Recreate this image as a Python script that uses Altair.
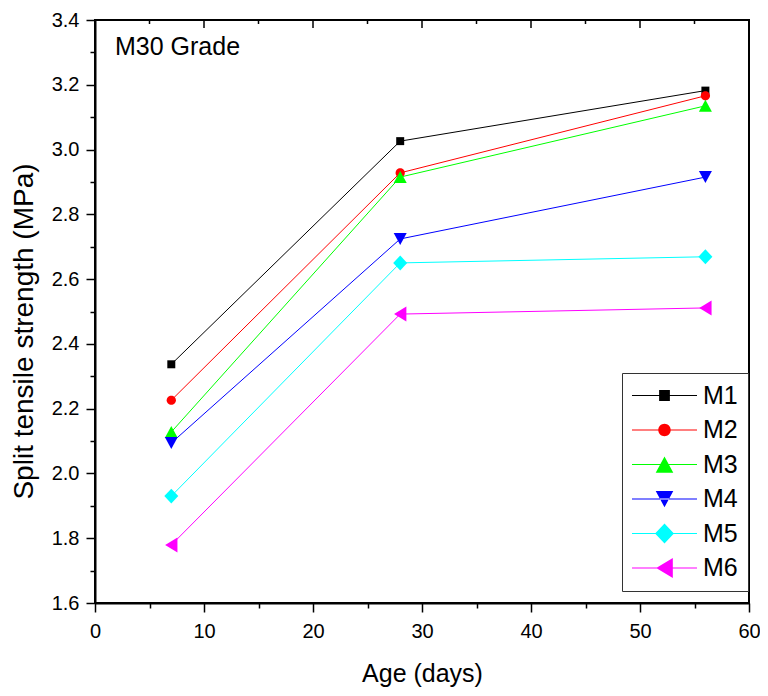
import altair as alt
import pandas as pd

# ---- data ----
ages = [7, 28, 56]
series = ["M1", "M2", "M3", "M4", "M5", "M6"]
m1 = [2.337, 3.026, 3.182]
m2 = [2.226, 2.928, 3.166]
m3 = [2.128, 2.915, 3.135]
m4 = [2.094, 2.724, 2.915]
m5 = [1.930, 2.650, 2.669]
m6 = [1.779, 2.492, 2.511]
x_ticks = [0, 10, 20, 30, 40, 50, 60]
x_minor = [5, 15, 25, 35, 45, 55]
y_ticks = [1.6, 1.8, 2.0, 2.2, 2.4, 2.6, 2.8, 3.0, 3.2, 3.4]
y_minor = [1.7, 1.9, 2.1, 2.3, 2.5, 2.7, 2.9, 3.1, 3.3]
annotation = ["M30 Grade"]

# ---- styles ----
colors = ["#000000", "#FF0000", "#00FF00", "#0000FF", "#00FFFF", "#FF00FF"]
shape_paths = [
    "M-0.57,-0.57H0.57V0.57H-0.57Z",
    "M0.66,0A0.66,0.66,0,1,1,-0.66,0A0.66,0.66,0,1,1,0.66,0Z",
    "M0,-0.86L0.93,0.86L-0.93,0.86Z",
    "M0,0.86L0.93,-0.86L-0.93,-0.86Z",
    "M0,-1.07L1,0L0,1.07L-1,0Z",
    "M-0.88,0L0.88,-1.07L0.88,1.07Z",
]
legend_line = "M-3.44,-0.055H3.44V0.055H-3.44Z"
legend_paths = [p + legend_line for p in shape_paths]
FONT = "Liberation Sans"
W, H = 654, 583

values = [m1, m2, m3, m4, m5, m6]
rows = []
for name, vals in zip(series, values):
    for a, v in zip(ages, vals):
        rows.append({"age": a, "strength": v, "series": name})
df = pd.DataFrame(rows)

xscale = alt.Scale(domain=[0, 60], nice=False)
yscale = alt.Scale(domain=[1.6, 3.4], nice=False, zero=False)
cscale = alt.Scale(domain=series, range=colors)
sscale = alt.Scale(domain=series, range=shape_paths)
lscale = alt.Scale(domain=series, range=legend_paths)

legend = alt.Legend(
    title=None,
    orient="none",
    legendX=527,
    legendY=353,
    direction="vertical",
    padding=10,
    rowPadding=8.5,
    symbolSize=357,
    symbolOffset=20,
    symbolStrokeWidth=0,
    symbolOpacity=1,
    labelOffset=26,
    labelFont=FONT,
    labelFontSize=25,
    labelColor="black",
    strokeColor="#333333",
    fillColor="white",
)

axis_common = dict(
    grid=False,
    domainColor="black",
    tickColor="black",
    labelColor="black",
    titleColor="black",
    labelFont=FONT,
    titleFont=FONT,
    labelFontSize=20,
    titleFontWeight="normal",
)

base = alt.Chart(df)

lines = base.mark_line(strokeWidth=1).encode(
    x=alt.X("age:Q", scale=xscale, axis=alt.Axis(
        orient="bottom", values=x_ticks, title="Age (days)", tickSize=9, tickWidth=1.5,
        domainWidth=2, labelPadding=9, labelFlush=False, titleFontSize=25,
        titleX=W / 2, titleY=78, titleBaseline="alphabetic", titleAlign="center",
        **axis_common)),
    y=alt.Y("strength:Q", scale=yscale, axis=alt.Axis(
        orient="left", values=y_ticks, format=".1f", title="Split tensile strength (MPa)",
        tickSize=9, tickWidth=1.5, domainWidth=2, labelPadding=7, labelFlush=False,
        titleFontSize=28,
        titleX=-63, titleY=311, titleBaseline="alphabetic", titleAlign="center",
        titleAngle=270, **axis_common)),
    color=alt.Color("series:N", scale=cscale, legend=None),
    detail="series:N",
)

points = base.mark_point(filled=True, size=196, opacity=1).encode(
    x=alt.X("age:Q", scale=xscale, axis=alt.Axis(
        orient="bottom", values=x_minor, tickSize=5, tickWidth=1.5, labels=False,
        domain=False, title=None, grid=False, tickColor="black")),
    y=alt.Y("strength:Q", scale=yscale, axis=alt.Axis(
        orient="left", values=y_minor, tickSize=5, tickWidth=1.5, labels=False,
        domain=False, title=None, grid=False, tickColor="black")),
    color=alt.Color("series:N", scale=cscale, legend=None),
    shape=alt.Shape("series:N", scale=sscale, legend=None),
)

legend_layer = base.transform_filter("false").mark_point(filled=True, opacity=1).encode(
    x=alt.X("age:Q", scale=xscale, axis=None),
    y=alt.Y("strength:Q", scale=yscale, axis=None),
    color=alt.Color("series:N", scale=cscale, legend=legend),
    shape=alt.Shape("series:N", scale=lscale, legend=legend),
)

# inward ticks on the top frame, placed through the x scale
top_major = alt.Chart(pd.DataFrame({"t": x_ticks})).mark_rule(
    color="black", strokeWidth=1.5
).encode(x=alt.X("t:Q", scale=xscale, axis=None), y=alt.value(0), y2=alt.value(8))

top_minor = alt.Chart(pd.DataFrame({"t": x_minor})).mark_rule(
    color="black", strokeWidth=1.5
).encode(x=alt.X("t:Q", scale=xscale, axis=None), y=alt.value(0), y2=alt.value(4))

note = alt.Chart(pd.DataFrame({"label": annotation})).mark_text(
    align="left", baseline="alphabetic", font=FONT, fontSize=25, color="black"
).encode(x=alt.value(20), y=alt.value(35), text="label:N")

chart = alt.layer(lines, points, legend_layer, top_major, top_minor, note).resolve_axis(
    x="independent", y="independent"
).resolve_scale(
    color="independent", shape="independent"
).properties(
    width=W, height=H,
    autosize=alt.AutoSizeParams(type="none"),
    padding={"left": 87, "top": 12, "right": 11, "bottom": 84},
    background="white",
).configure_view(stroke="black", strokeWidth=2)

chart.save("out.html", embed_options={"renderer": "svg", "actions": False})
